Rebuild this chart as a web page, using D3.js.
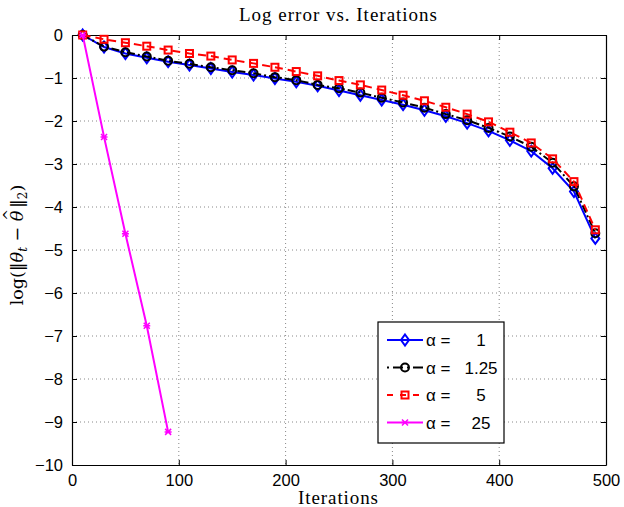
<!DOCTYPE html>
<html><head><meta charset="utf-8">
<script src="https://cdn.jsdelivr.net/npm/d3@7"></script>
<style>body{margin:0;background:#fff}svg{display:block}</style>
</head><body>
<script>
const iterations = [10,30,50,70,90,110,130,150,170,190,210,230,250,270,290,310,330,350,370,390,410,430,450,470,490];
const alpha1 = [0,-0.28,-0.43,-0.53,-0.62,-0.70,-0.78,-0.86,-0.93,-1.01,-1.09,-1.18,-1.29,-1.40,-1.51,-1.62,-1.75,-1.89,-2.05,-2.23,-2.45,-2.70,-3.10,-3.64,-4.73];
const alpha125 = [0,-0.27,-0.40,-0.50,-0.60,-0.67,-0.75,-0.82,-0.89,-0.98,-1.05,-1.16,-1.24,-1.34,-1.46,-1.57,-1.69,-1.84,-1.98,-2.16,-2.36,-2.60,-2.97,-3.52,-4.61];
const alpha5 = [0,-0.10,-0.18,-0.26,-0.35,-0.43,-0.49,-0.58,-0.66,-0.75,-0.85,-0.95,-1.06,-1.16,-1.28,-1.40,-1.53,-1.68,-1.84,-2.02,-2.26,-2.51,-2.88,-3.41,-4.53];
const iter25 = [10,30,50,70,90];
const alpha25 = [0,-2.37,-4.62,-6.76,-9.23];
const xTicks = [0,100,200,300,400,500];
const yTicks = [0,-1,-2,-3,-4,-5,-6,-7,-8,-9,-10];
const legendLabels = ["1","1.25","5","25"];

const W=624,H=507;
const svg=d3.select("body").append("svg").attr("width",W).attr("height",H);
const L=72,R=606,T=35,B=465;
const x=d3.scaleLinear().domain([0,500]).range([L,R]);
const y=d3.scaleLinear().domain([-10,0]).range([B,T]);

// grid
const g=svg.append("g");
xTicks.slice(1,-1).forEach(t=>g.append("line").attr("x1",x(t)).attr("x2",x(t)).attr("y1",T).attr("y2",B).attr("stroke","#888").attr("stroke-width",1).attr("stroke-dasharray","1,3"));
yTicks.slice(1,-1).forEach(t=>g.append("line").attr("y1",y(t)).attr("y2",y(t)).attr("x1",L).attr("x2",R).attr("stroke","#888").attr("stroke-width",1).attr("stroke-dasharray","1,3"));

// axes
const fmt=d=>d<0?"\u2212"+Math.abs(d):String(d);
const ax=svg.append("g").attr("transform",`translate(0,${B})`).call(d3.axisBottom(x).tickValues(xTicks).tickSizeInner(-5).tickSizeOuter(0).tickPadding(9).tickFormat(fmt));
const axT=svg.append("g").attr("transform",`translate(0,${T})`).call(d3.axisTop(x).tickValues(xTicks).tickSizeInner(-5).tickSizeOuter(0).tickFormat(""));
const ay=svg.append("g").attr("transform",`translate(${L},0)`).call(d3.axisLeft(y).tickValues(yTicks).tickSizeInner(-5).tickSizeOuter(0).tickPadding(9).tickFormat(fmt));
const ayR=svg.append("g").attr("transform",`translate(${R},0)`).call(d3.axisRight(y).tickValues(yTicks).tickSizeInner(-5).tickSizeOuter(0).tickFormat(""));
[ax,axT,ay,ayR].forEach(a=>{a.select(".domain").attr("stroke","#000").attr("stroke-width",1.2);a.selectAll(".tick line").attr("stroke","#000");a.selectAll("text").attr("font-family","Liberation Sans, Arial, sans-serif").attr("font-size",16.5).attr("fill","#000");});

// series
const line=d3.line().x(d=>x(d[0])).y(d=>y(d[1]));
const series=[
 {xs:iterations,ys:alpha1,color:"#0000ff",dash:null,marker:"diamond"},
 {xs:iterations,ys:alpha125,color:"#000000",dash:"8,3,2,3",marker:"circle"},
 {xs:iterations,ys:alpha5,color:"#ff0000",dash:"8,5",marker:"square"},
 {xs:iter25,ys:alpha25,color:"#ff00ff",dash:null,marker:"x"}
];
function drawMarker(sel,type,color,cx,cy){
  if(type==="diamond"){sel.append("path").attr("d",`M${cx},${cy-5.5}L${cx+4},${cy}L${cx},${cy+5.5}L${cx-4},${cy}Z`).attr("fill","none").attr("stroke",color).attr("stroke-width",2);}
  else if(type==="circle"){sel.append("circle").attr("cx",cx).attr("cy",cy).attr("r",4).attr("fill","none").attr("stroke",color).attr("stroke-width",2);}
  else if(type==="square"){sel.append("rect").attr("x",cx-3.5).attr("y",cy-3.5).attr("width",7).attr("height",7).attr("fill","none").attr("stroke",color).attr("stroke-width",2);}
  else {sel.append("path").attr("d",`M${cx-3},${cy-3}L${cx+3},${cy+3}M${cx-3},${cy+3}L${cx+3},${cy-3}M${cx-3.5},${cy}L${cx+3.5},${cy}`).attr("stroke",color).attr("stroke-width",1.5);}
}
series.forEach(s=>{
  const data=s.xs.map((v,i)=>[v,s.ys[i]]);
  const sg=svg.append("g");
  sg.append("path").datum(data).attr("d",line).attr("fill","none").attr("stroke",s.color).attr("stroke-width",2).attr("stroke-dasharray",s.dash);
  data.forEach(d=>drawMarker(sg,s.marker,s.color,x(d[0]),y(d[1])));
});

// legend
const lg=svg.append("g");
lg.append("rect").attr("x",378).attr("y",322).attr("width",126).attr("height",121).attr("fill","#fff").attr("stroke","#000").attr("stroke-width",1.2);
series.forEach((s,i)=>{
  const ly=340+i*27.5;
  lg.append("line").attr("x1",387).attr("x2",423).attr("y1",ly).attr("y2",ly).attr("stroke",s.color).attr("stroke-width",2).attr("stroke-dasharray",s.dash==="8,5"?"6,7":s.dash?"2,4,10,4":null);
  drawMarker(lg,s.marker,s.color,405,ly);
  lg.append("text").attr("x",426).attr("y",ly+6).attr("font-family","Liberation Sans, Arial, sans-serif").attr("font-size",17).text("\u03b1 =");
  lg.append("text").attr("x",481).attr("y",ly+6).attr("text-anchor","middle").attr("font-family","Liberation Sans, Arial, sans-serif").attr("font-size",17).text(legendLabels[i]);
});

// titles
svg.append("text").attr("x",338).attr("y",21).attr("text-anchor","middle").attr("font-family","Liberation Serif, serif").attr("font-size",19).attr("textLength",198).attr("lengthAdjust","spacing").text("Log error vs. Iterations");
svg.append("text").attr("x",338).attr("y",504).attr("text-anchor","middle").attr("font-family","Liberation Serif, serif").attr("font-size",19).attr("textLength",80).attr("lengthAdjust","spacing").text("Iterations");
const yl=svg.append("text").attr("transform","translate(23,245) rotate(-90)").attr("text-anchor","middle").attr("font-family","DejaVu Serif, serif").attr("font-size",17.5);
yl.append("tspan").text("log(\u2016");
yl.append("tspan").attr("font-style","italic").text("\u03b8");
yl.append("tspan").attr("font-style","italic").attr("font-size",12).attr("dy",4).text("t");
yl.append("tspan").attr("dy",-4).text(" \u2212 ");
yl.append("tspan").attr("font-style","italic").text("\u03b8");
yl.append("tspan").attr("font-size",14).attr("dx",-10).attr("dy",-9).text("^");
yl.append("tspan").attr("dy",9).attr("dx",1).text("\u2016");
yl.append("tspan").attr("font-size",12).attr("dy",4).text("2");
yl.append("tspan").attr("dy",-4).text(")");
</script>
</body></html>
